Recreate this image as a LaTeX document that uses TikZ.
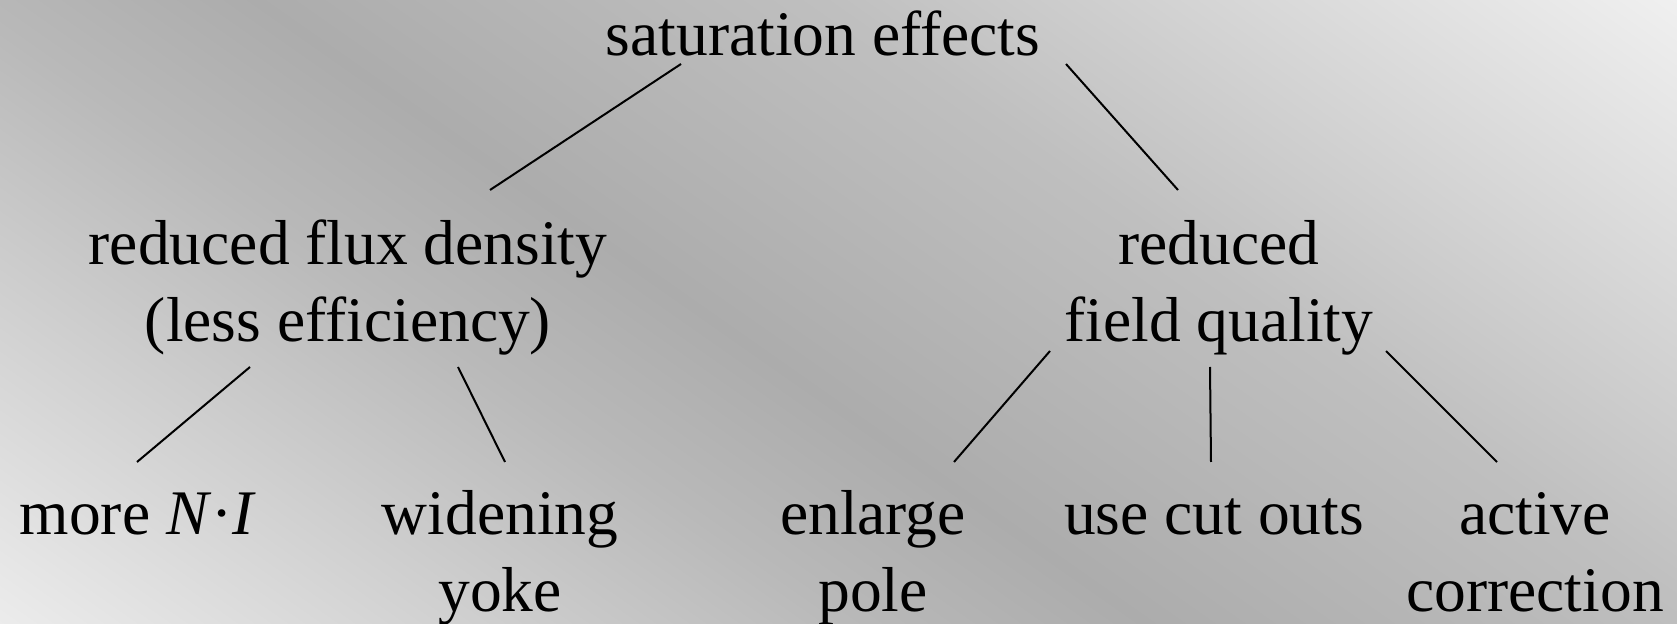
\documentclass[tikz,border=0pt]{standalone}
\usepackage{fontspec}
\setmainfont{Liberation Serif}
\usetikzlibrary{calc}
\definecolor{gA}{gray}{0.925}
\definecolor{gB}{gray}{0.725}
\definecolor{gC}{gray}{0.675}
\definecolor{gD}{gray}{0.75}
\definecolor{gE}{gray}{0.941}
\pgfdeclarehorizontalshading{bgshade}{100bp}{color(0bp)=(gA); color(29.5bp)=(gA); color(43.1bp)=(gB); color(47.8bp)=(gC); color(56.9bp)=(gD); color(70.5bp)=(gE); color(100bp)=(gE)}
\tikzset{
  lbl/.style={inner sep=0pt, anchor=base, align=center, font=\fontsize{31.75}{38.5}\selectfont},
  conn/.style={line width=1pt, black}
}
\begin{document}
\begin{tikzpicture}[x=0.5pt,y=-0.5pt]
\useasboundingbox (0,0) rectangle (1677,624);
\begin{scope}
\clip (0,0) rectangle (1677,624);
\shade[shading=bgshade, shading angle=55] (-61.5,-588) rectangle (1738.5,1212);
\end{scope}
\node[lbl] (top) at (823,56) {saturation effects};
\node[lbl] (L1) at (348,342) {reduced flux density\\(less efficiency)};
\node[lbl] (R1) at (1219,342) {reduced\\field quality};
\node[lbl] (more) at (138,535) {more \textit{N}·\textit{I}};
\node[lbl] (wid) at (500,612) {widening\\yoke};
\node[lbl] (enl) at (873,612) {enlarge\\pole};
\node[lbl] (cut) at (1214,535) {use cut outs};
\node[lbl] (act) at (1535,612) {active\\correction};
\draw[conn] ($(top.base)+(-142,8)$) -- ($(L1.base)+(142,-152)$);
\draw[conn] ($(top.base)+(243,8)$) -- ($(R1.base)+(-41,-152)$);
\draw[conn] ($(L1.base)+(-98,25)$) -- ($(more.base)+(-1,-73)$);
\draw[conn] ($(L1.base)+(110,25)$) -- ($(wid.base)+(5,-150)$);
\draw[conn] ($(R1.base)+(-169,9)$) -- ($(enl.base)+(81,-150)$);
\draw[conn] ($(R1.base)+(-9,25)$) -- ($(cut.base)+(-3,-73)$);
\draw[conn] ($(R1.base)+(167,9)$) -- ($(act.base)+(-38,-150)$);
\end{tikzpicture}
\end{document}
